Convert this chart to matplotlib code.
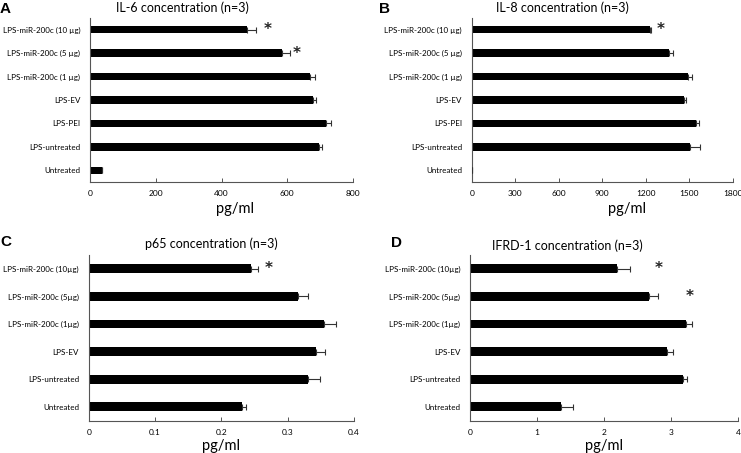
import matplotlib.pyplot as plt
import numpy as np

plt.rcParams["font.family"] = ["Lato", "DejaVu Sans"]

# --- data (top category first) ---
labels_ab = ["LPS-miR-200c (10 µg)", "LPS-miR-200c (5 µg)", "LPS-miR-200c (1 µg)",
             "LPS-EV", "LPS-PEI", "LPS-untreated", "Untreated"]
il6_mean = [477, 585, 668, 678, 719, 698, 36]
il6_err = [29, 22, 16, 8, 14, 7, 2]
il6_star = {0: 541, 1: 630}

il8_mean = [1230, 1363, 1492, 1464, 1547, 1506, 0]
il8_err = [9, 23, 28, 16, 19, 69, 0]
il8_star = {0: 1306}

labels_cd = ["LPS-miR-200c (10µg)", "LPS-miR-200c (5µg)", "LPS-miR-200c (1µg)",
             "LPS-EV", "LPS-untreated", "Untreated"]
p65_mean = [0.245, 0.315, 0.355, 0.343, 0.330, 0.231]
p65_err = [0.011, 0.016, 0.018, 0.013, 0.018, 0.0065]
p65_star = {0: 0.272}

ifrd_mean = [2.19, 2.67, 3.22, 2.94, 3.17, 1.36]
ifrd_err = [0.19, 0.13, 0.09, 0.09, 0.065, 0.18]
ifrd_star = {0: 2.82, 1: 3.28}

W, H = 741, 453
fig = plt.figure(figsize=(W / 100, H / 100), dpi=100)


def panel(rect, labels, means, errs, stars, xmax, xticks, title, title_xy,
          letter, letter_xy, xlabel_xy):
    l, t, r, b = rect
    ax = fig.add_axes([l / W, 1 - b / H, (r - l) / W, (b - t) / H])
    n = len(labels)
    y = np.arange(n)[::-1]
    ax.barh(y, means, height=0.32, color="black", zorder=2)
    ax.errorbar(means, y, xerr=[np.zeros(n), errs], fmt="none", ecolor="#333333",
                elinewidth=0.8, capsize=2.5, capthick=0.8, zorder=3)
    for i, sx in stars.items():
        ax.text(sx, y[i], "*", ha="center", va="center", fontsize=11,
                fontweight="bold", family="DejaVu Sans", color="#222222")
    ax.set_ylim(-0.5, n - 0.5)
    ax.set_xlim(0, xmax)
    ax.set_yticks(y)
    ax.set_yticklabels(labels, fontsize=5.8)
    ax.set_xticks(xticks)
    ax.set_xticklabels([f"{v:g}" for v in xticks], fontsize=6)
    ax.tick_params(axis="y", length=0, pad=7)
    ax.tick_params(axis="x", direction="in", length=3, width=0.7, pad=6,
                   color="#555555")
    for s in ("top", "right"):
        ax.spines[s].set_visible(False)
    for s in ("left", "bottom"):
        ax.spines[s].set_color("#555555")
        ax.spines[s].set_linewidth(0.8)
    ax.set_xlabel("pg/ml", fontsize=10.5)
    ax.xaxis.label.set_va("center")
    ax.xaxis.set_label_coords(*xlabel_xy)
    fig.text(title_xy[0] / W, 1 - title_xy[1] / H, title, ha="center",
             va="center", fontsize=9)
    fig.text(letter_xy[0] / W, 1 - letter_xy[1] / H, letter, ha="left",
             va="center", fontsize=11, fontweight="bold", family="Liberation Sans")
    return ax


panel((90, 18, 353, 182), labels_ab, il6_mean, il6_err, il6_star, 800,
      [0, 200, 400, 600, 800], "IL-6 concentration (n=3)", (182, 8),
      "A", (0, 9), (0.55, -0.165))
panel((471.7, 18, 732.7, 182), labels_ab, il8_mean, il8_err, il8_star, 1800,
      [0, 300, 600, 900, 1200, 1500, 1800], "IL-8 concentration (n=3)", (562, 8),
      "B", (379, 9), (0.595, -0.165))
panel((88.7, 255, 354, 420.7), labels_cd, p65_mean, p65_err, p65_star, 0.4,
      [0, 0.1, 0.2, 0.3, 0.4], "p65 concentration (n=3)", (211, 244),
      "C", (0, 242), (0.5, -0.15))
panel((470, 255, 738.3, 420.7), labels_cd, ifrd_mean, ifrd_err, ifrd_star, 4,
      [0, 1, 2, 3, 4], "IFRD-1 concentration (n=3)", (567, 246),
      "D", (391, 243), (0.5, -0.15))

fig.savefig("out.png", dpi=100)
